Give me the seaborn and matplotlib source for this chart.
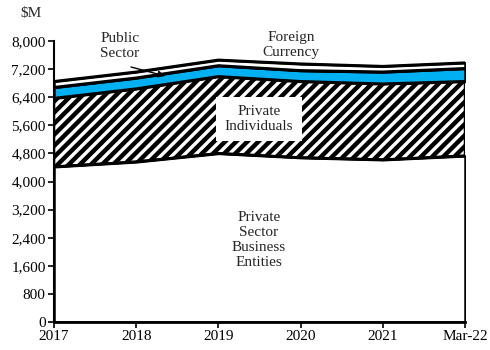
import numpy as np
import pandas as pd
import matplotlib
matplotlib.use("Agg")
import matplotlib.pyplot as plt
import seaborn as sns

# Deposits by holder, $M
periods = ["2017", "2018", "2019", "2020", "2021", "Mar-22"]
business = [4420, 4560, 4800, 4680, 4620, 4730]
individuals = [1950, 2080, 2190, 2170, 2160, 2120]
public = [310, 310, 310, 310, 340, 370]
foreign = [170, 170, 160, 190, 160, 160]
y_ticks = [0, 800, 1600, 2400, 3200, 4000, 4800, 5600, 6400, 7200, 8000]

sns.set_theme(style="ticks")
plt.rcParams["font.family"] = ["Liberation Serif", "DejaVu Serif"]
plt.rcParams["hatch.linewidth"] = 3.2
plt.rcParams["hatch.color"] = "black"

W, H = 490, 350
fig = plt.figure(figsize=(W / 100, H / 100), dpi=100)
ax = fig.add_axes([54 / W, 28 / H, 411 / W, 281 / H])

x = np.arange(len(periods))
layers = [
    ("Private Sector Business Entities", business, "white", None),
    ("Private Individuals", individuals, "white", "///"),
    ("Public Sector", public, "#00B0F0", None),
    ("Foreign Currency", foreign, "white", None),
]

base = np.zeros(len(periods))
rows = []
for name, vals, color, hatch in layers:
    top = base + np.array(vals, dtype=float)
    ax.fill_between(x, base, top, facecolor=color, edgecolor="black",
                    hatch=hatch, linewidth=1.8, zorder=2)
    for xi, yi in zip(x, top):
        rows.append({"x": xi, "y": yi, "layer": name})
    base = top

df = pd.DataFrame(rows)
sns.lineplot(data=df, x="x", y="y", units="layer", estimator=None,
             color="black", linewidth=2.0, legend=False, ax=ax, zorder=3)

ax.set_xlim(0, len(periods) - 1)
ax.set_ylim(0, 8000)
ax.set_xticks(x)
ax.set_xticklabels(periods)
ax.set_yticks(y_ticks)
ax.set_yticklabels([f"{v:,}" for v in y_ticks])
ax.set_xlabel("")
ax.set_ylabel("")
for side in ("top", "right"):
    ax.spines[side].set_visible(False)
ax.spines["left"].set_linewidth(1.5)
ax.spines["bottom"].set_linewidth(2.0)
ax.spines["left"].set_color("black")
ax.spines["bottom"].set_color("black")
ax.tick_params(axis="both", direction="out", length=4, width=1.2,
               colors="black", labelsize=11, pad=2)


def fx(px):
    return px / W


def fy(py):
    return 1 - py / H


fs = 11
fig.text(fx(31), fy(13), "$M", ha="center", va="center", fontsize=fs)
fig.text(fx(120), fy(46), "Public\nSector", ha="center", va="center",
         fontsize=fs, linespacing=1.2)
fig.text(fx(291), fy(45), "Foreign\nCurrency", ha="center", va="center",
         fontsize=fs, linespacing=1.2)
fig.text(fx(259), fy(119), "Private\nIndividuals", ha="center", va="center",
         fontsize=fs, linespacing=1.2, zorder=5,
         bbox=dict(boxstyle="square,pad=0.55", facecolor="white",
                   edgecolor="none"))
fig.text(fx(259), fy(240), "Private\nSector\nBusiness\nEntities",
         ha="center", va="center", fontsize=fs, linespacing=1.2)

ax.annotate("", xy=(165, H - 76), xycoords="figure pixels",
            xytext=(131, H - 67), textcoords="figure pixels",
            arrowprops=dict(arrowstyle="-|>", color="black", lw=1.0,
                            mutation_scale=10, shrinkA=0, shrinkB=0),
            zorder=6)

fig.savefig("out.png", dpi=100)
